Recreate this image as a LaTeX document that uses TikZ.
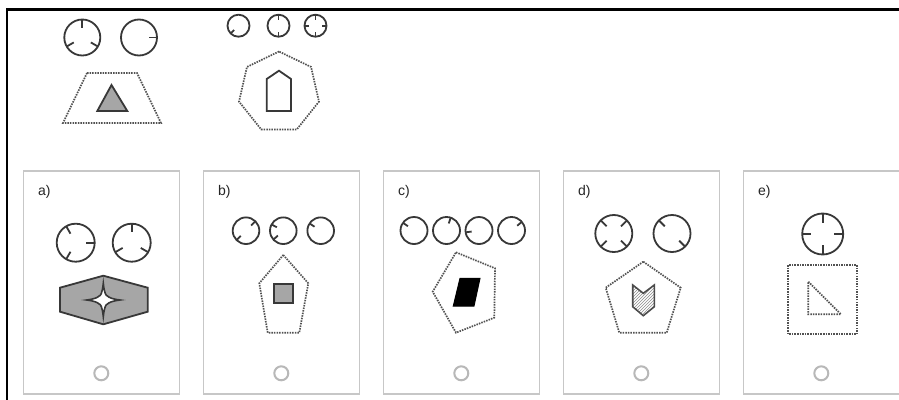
\documentclass[tikz,border=0pt]{standalone}
\usepackage{fontspec}
\setmainfont{Liberation Sans}
\usetikzlibrary{patterns,calc}
\tikzset{
  dialc/.style={draw=black!78, line width=1.8pt},
  dotb/.style={draw=black!68, line width=1.7pt, dash pattern=on 1.5pt off 1.1pt},
  panelbox/.style={draw=black!22, line width=1.2pt},
  radio/.style={draw=black!28, line width=2pt},
  lbl/.style={font=\fontsize{14}{16}\selectfont, anchor=west, inner sep=0pt, text=black!85},
  solidshape/.style={draw=black!78, line width=1.8pt, line join=miter},
}
% dial: x, y, r, list of tick angles (math convention, y up)
\newcommand\mydial[4]{%
  \draw[dialc] (#1,#2) circle[radius=#3];
  \foreach \a in {#4}{%
    \draw[dialc] ({#1+#3*cos(\a)},{#2-#3*sin(\a)}) -- ({#1+0.55*#3*cos(\a)},{#2-0.55*#3*sin(\a)});
  }%
}
\begin{document}
\begin{tikzpicture}[x=1pt,y=-1pt]
\useasboundingbox (0,0) rectangle (899,399);
\fill[white] (0,0) rectangle (899,399);

% frame
\draw[line width=3pt, black] (7,9.5) -- (900,9.5);
\draw[line width=2.2pt, black] (7,8) -- (7,400);

% ---------- top figure 1 ----------
\mydial{82.3}{37.5}{18}{90,210,330}
\mydial{139}{37.5}{18}{0}
\draw[dotb] (87,73) -- (137,73) -- (161,123) -- (63,123) -- cycle;
\draw[solidshape, fill=black!35] (111.5,85) -- (127.3,111) -- (97.3,111) -- cycle;

% ---------- top figure 2 ----------
\mydial{238.5}{25.7}{11}{225}
\mydial{278.5}{25.7}{11}{90,270}
\mydial{315.5}{25.7}{11}{0,90,180,270}
\draw[dotb] (279,51.5) \foreach \k in {1,...,6}{ -- ({279+41*cos(90+\k*360/7)},{92.5-41*sin(90+\k*360/7)}) } -- cycle;
\draw[solidshape, fill=white] (279,70.7) -- (291,79) -- (291,111) -- (266.7,111) -- (266.7,79) -- cycle;

% ---------- panels ----------
\foreach \i/\t in {0/a,1/b,2/c,3/d,4/e}{
  \draw[panelbox] ({23.3+180*\i},171) rectangle ({179.3+180*\i},394);
  \node[lbl] (lab\t) at ({38+180*\i},192) {\t)};
  \draw[radio] ({101.3+180*\i},373.3) circle[radius=7];
}

% panel a
\mydial{75.7}{242.7}{19}{0,120,240}
\mydial{131.7}{242.7}{19}{90,210,330}
\draw[solidshape, fill=black!35] (103.3,275.7) -- (147.7,287.7) -- (147.7,311.7) -- (103.3,324.3) -- (60,311.7) -- (60,287.7) -- cycle;
\draw[solidshape, fill=white, line width=1.6pt]
  (103.3,283.3) .. controls (104.3,293) and (106,296) .. (107.5,296)
  .. controls (109,297.5) and (112,299) .. (120,300)
  .. controls (112,301) and (109,302.5) .. (107.5,304)
  .. controls (106,304) and (104.3,307) .. (103.3,316.7)
  .. controls (102.3,307) and (100.6,304) .. (99.1,304)
  .. controls (97.6,302.5) and (94.6,301) .. (86.7,300)
  .. controls (94.6,299) and (97.6,297.5) .. (99.1,296)
  .. controls (100.6,296) and (102.3,293) .. cycle;

% panel b
\mydial{246}{230.7}{13.3}{45,225}
\mydial{283.3}{230.7}{13.3}{152,222}
\mydial{320.7}{230.7}{13.3}{147}
\draw[dotb] (283.3,255) -- (308.3,283.3) -- (299.3,332.7) -- (267.7,332.7) -- (259.3,283.3) -- cycle;
\draw[solidshape, fill=black!35] (274,284.3) rectangle (292.7,303.3);

% panel c
\mydial{414}{230.5}{13.5}{145}
\mydial{446.5}{230.5}{13.5}{72}
\mydial{479}{230.5}{13.5}{188}
\mydial{511.5}{230.5}{13.5}{40}
\draw[dotb] (456,252.3) -- (495,268.3) -- (494.3,317.7) -- (456,332.7) -- (432.7,291.7) -- cycle;
\draw[fill=black, draw=black, line width=1pt] (460,278.3) -- (480,278.3) -- (474,306) -- (453.3,306) -- cycle;

% panel d
\mydial{613.8}{233.5}{18.5}{45,135,225,315}
\mydial{672}{233.5}{18.5}{135,315}
\draw[dotb] (643.3,261.7) -- (680.7,287.7) -- (666.7,332.7) -- (619.3,332.7) -- (605.7,287.7) -- cycle;
\draw[draw=black!70, line width=1.6pt, pattern=north east lines, pattern color=black!45]
  (632.7,285) -- (643.3,293.3) -- (654.3,285) -- (654.3,306.7) -- (643.3,315.7) -- (632.7,306.7) -- cycle;

% panel e
\mydial{822.7}{234}{20.5}{0,90,180,270}
\draw[dotb] (788.3,265) rectangle (856.7,334.3);
\draw[dotb] (808.3,281.7) -- (841,314.3) -- (808.3,314.3) -- cycle;
\end{tikzpicture}
\end{document}
